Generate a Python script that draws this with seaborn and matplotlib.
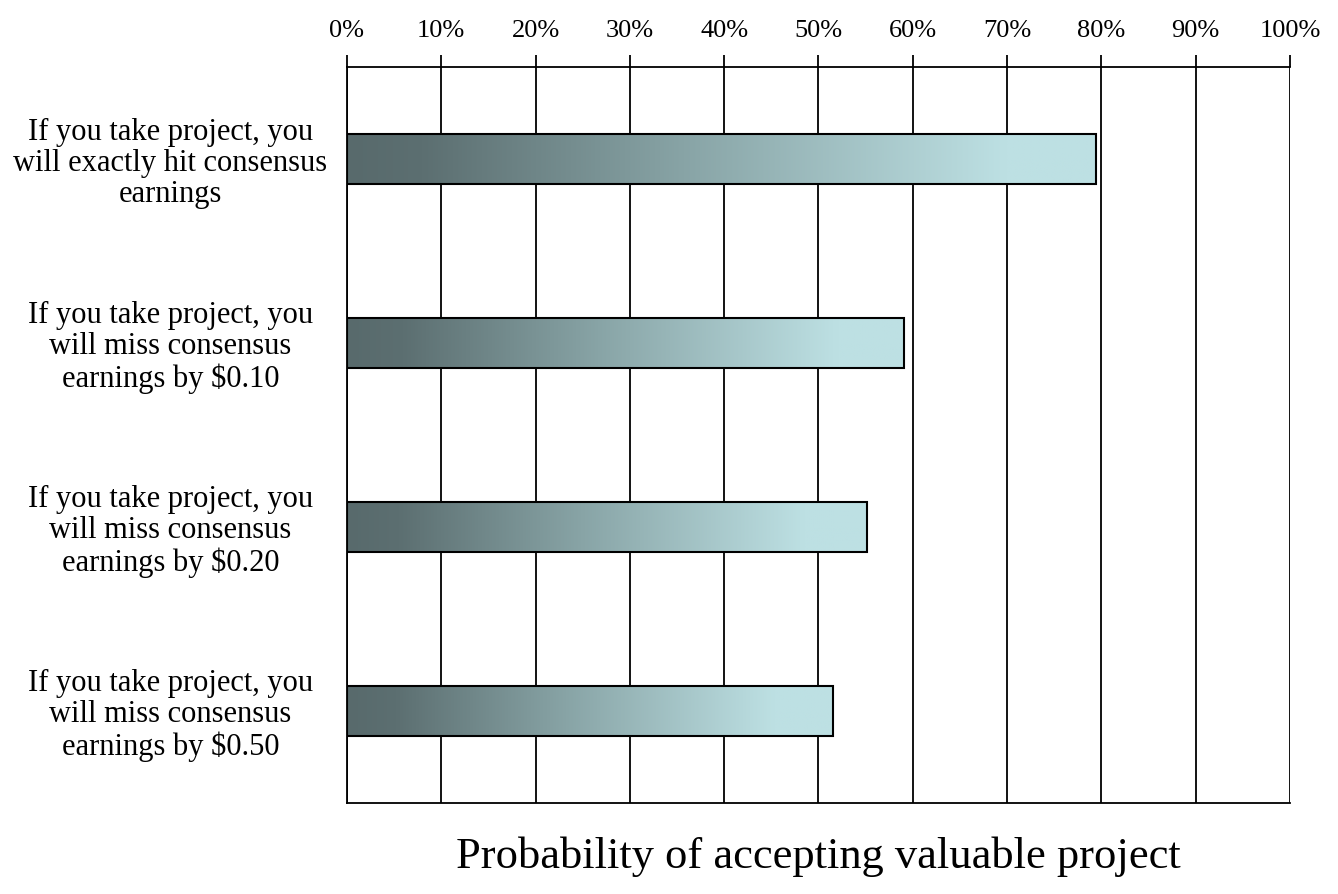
import numpy as np
import pandas as pd
import matplotlib
matplotlib.use("Agg")
import matplotlib.pyplot as plt
from matplotlib.colors import LinearSegmentedColormap
import seaborn as sns

scenarios = [
    "If you take project, you\nwill exactly hit consensus\nearnings",
    "If you take project, you\nwill miss consensus\nearnings by $0.10",
    "If you take project, you\nwill miss consensus\nearnings by $0.20",
    "If you take project, you\nwill miss consensus\nearnings by $0.50",
]
probability = [79.4, 59.1, 55.1, 51.5]
x_ticks = list(range(0, 101, 10))
x_tick_labels = [f"{t}%" for t in x_ticks]

df = pd.DataFrame({"scenario": scenarios, "probability": probability})

sns.set_style("white")
plt.rcParams["font.family"] = ["Liberation Serif", "DejaVu Serif"]
plt.rcParams["text.color"] = "black"
plt.rcParams["axes.labelcolor"] = "black"
plt.rcParams["xtick.color"] = "black"
plt.rcParams["ytick.color"] = "black"

fig = plt.figure(figsize=(13.38, 8.94), dpi=100)
ax = fig.add_axes([0.2593, 0.1018, 0.7048, 0.8232])

sns.barplot(data=df, x="probability", y="scenario", orient="h", width=0.27,
            color="white", edgecolor="black", linewidth=1.5, ax=ax, zorder=3)

# gradient fill, dark slate -> pale cyan
grad = LinearSegmentedColormap.from_list(
    "bar", [(0.0, "#586a6c"), (0.1, "#5c6f71"), (0.45, "#88a4a6"),
            (0.88, "#bde0e3"), (1.0, "#bde0e3")])
g = np.linspace(0, 1, 256).reshape(1, -1)
for patch in ax.patches:
    x0, y0 = patch.get_x(), patch.get_y()
    w, h = patch.get_width(), patch.get_height()
    im = ax.imshow(g, cmap=grad, aspect="auto", extent=(x0, x0 + w, y0 + h, y0),
                   zorder=2.5, interpolation="bilinear")
    im.set_clip_path(patch)
    patch.set_facecolor("none")

ax.set_xlim(0, 100)
ax.set_ylim(3.5, -0.5)
ax.set_xticks(x_ticks)
ax.set_xticklabels(x_tick_labels, fontsize=19)
ax.xaxis.tick_top()
ax.tick_params(axis="x", which="both", direction="out", length=9, width=1.3,
               pad=9, bottom=False, top=True)

# category boundaries carry the y ticks, labels sit between them
ax.set_yticks([-0.5, 0.5, 1.5, 2.5, 3.5])
ax.set_yticklabels([])
ax.set_yticks(range(len(scenarios)), minor=True)
ax.set_yticklabels(scenarios, minor=True, fontsize=22, linespacing=1.08,
                   multialignment="center", ha="center")
ax.tick_params(axis="y", which="major", direction="out", length=9, width=1.3)
ax.tick_params(axis="y", which="minor", length=0, pad=127)

ax.grid(axis="x", color="black", linewidth=1.3, zorder=0)
ax.set_axisbelow(True)
for side in ["left", "top", "bottom"]:
    ax.spines[side].set_visible(True)
    ax.spines[side].set_color("black")
    ax.spines[side].set_linewidth(1.3)
ax.spines["right"].set_visible(False)

ax.set_ylabel("")
ax.set_xlabel("Probability of accepting valuable project", fontsize=32, labelpad=24)

fig.savefig("out.png", dpi=100)
